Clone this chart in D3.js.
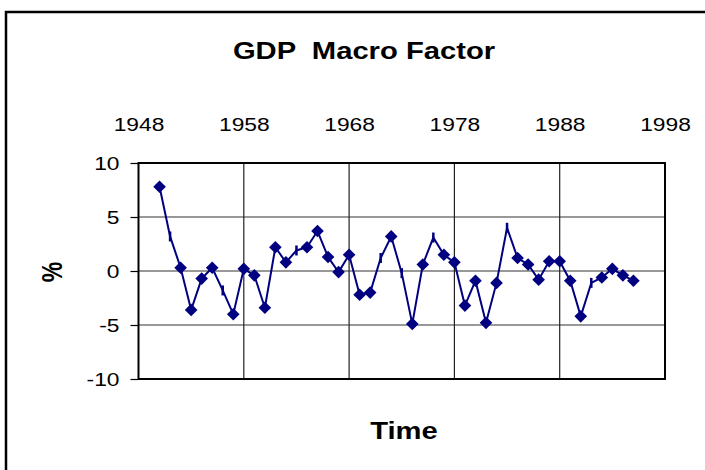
<!DOCTYPE html>
<html>
<head>
<meta charset="utf-8">
<script src="https://cdn.jsdelivr.net/npm/d3@7"></script>
<style>
  body { margin: 0; background: #fff; }
  text { font-family: 'Liberation Sans', Arial, sans-serif; fill: #000; }
</style>
</head>
<body>
<div id="chart-area"></div>
<script>
// data
const years = [1950, 1951, 1952, 1953, 1954, 1955, 1956, 1957, 1958, 1959,
  1960, 1961, 1962, 1963, 1964, 1965, 1966, 1967, 1968, 1969,
  1970, 1971, 1972, 1973, 1974, 1975, 1976, 1977, 1978, 1979,
  1980, 1981, 1982, 1983, 1984, 1985, 1986, 1987, 1988, 1989,
  1990, 1991, 1992, 1993, 1994, 1995];
const gdp = [7.8, 3.2, 0.3, -3.6, -0.7, 0.3, -1.8, -4.0, 0.2, -0.4,
  -3.4, 2.2, 0.8, 1.9, 2.2, 3.7, 1.3, -0.1, 1.5, -2.2,
  -2.0, 1.2, 3.2, -0.2, -4.9, 0.6, 3.1, 1.5, 0.8, -3.2,
  -0.9, -4.8, -1.1, 4.0, 1.2, 0.6, -0.8, 0.9, 0.9, -0.9,
  -4.2, -1.1, -0.6, 0.2, -0.4, -0.9];
// years drawn with a dash marker instead of a diamond
const dashYears = [1951, 1956, 1963, 1971, 1973, 1976, 1983, 1991];
const xTicks = [1948, 1958, 1968, 1978, 1988, 1998];
const yTicks = [-10, -5, 0, 5, 10];

const data = years.map((y, i) => ({ year: y, value: gdp[i] }));

let width = 705;
let height = 470;
let plot = { left: 138.5, right: 665, top: 163, bottom: 379 };
let lineColor = '#000080';
let stretch = 1.2; // the reference text is a bit wider than it is tall
let titleStretch = 1.27;

let xScale = d3.scaleLinear().domain([1948, 1998]).range([plot.left, plot.right]);
let yScale = d3.scaleLinear().domain([-10, 10]).range([plot.bottom, plot.top]);

let svg = d3.select('#chart-area')
  .append('svg')
  .attr('width', width)
  .attr('height', height);

svg.append('rect').attr('width', width).attr('height', height).attr('fill', '#fff');

// outer chart border (runs past the right and bottom edge)
svg.append('rect')
  .attr('x', 6).attr('y', 12)
  .attr('width', 800).attr('height', 600)
  .attr('fill', 'none')
  .attr('stroke', '#000')
  .attr('stroke-width', 2.5);

// gridlines
svg.append('g')
  .selectAll('line')
  .data(yTicks.filter((d) => d > -10 && d < 10))
  .enter()
  .append('line')
  .attr('x1', plot.left).attr('x2', plot.right)
  .attr('y1', (d) => yScale(d)).attr('y2', (d) => yScale(d))
  .attr('stroke', '#333')
  .attr('stroke-width', 1.2);
svg.append('g')
  .selectAll('line')
  .data(xTicks.filter((d) => d > 1948 && d < 1998))
  .enter()
  .append('line')
  .attr('x1', (d) => xScale(d)).attr('x2', (d) => xScale(d))
  .attr('y1', plot.top).attr('y2', plot.bottom)
  .attr('stroke', '#222')
  .attr('stroke-width', 1.2);

// plot frame
svg.append('rect')
  .attr('x', plot.left).attr('y', plot.top)
  .attr('width', plot.right - plot.left).attr('height', plot.bottom - plot.top)
  .attr('fill', 'none')
  .attr('stroke', '#000')
  .attr('stroke-width', 2);

// y axis
let yAxis = d3.axisLeft(yScale).tickValues(yTicks).tickFormat((d) => `${d}`).tickSize(8).tickPadding(11);
let yAxisG = svg.append('g')
  .attr('transform', `translate(${plot.left}, 0)`)
  .call(yAxis);
yAxisG.select('.domain').remove();
yAxisG.selectAll('line').attr('stroke', '#000').attr('stroke-width', 1.2);
yAxisG.selectAll('text')
  .attr('font-size', 19)
  .attr('font-family', "'Liberation Sans', Arial, sans-serif")
  .attr('fill', '#000')
  .attr('dy', '0.35em')
  .attr('transform', function () {
    let x = +d3.select(this).attr('x');
    d3.select(this).attr('x', 0);
    return `translate(${x}, 0) scale(${stretch}, 1)`;
  });

// x axis labels on top
let xAxis = d3.axisTop(xScale).tickValues(xTicks).tickFormat((d) => `${d}`).tickSize(0).tickPadding(32);
let xAxisG = svg.append('g')
  .attr('transform', `translate(0, ${plot.top})`)
  .call(xAxis);
xAxisG.select('.domain').remove();
xAxisG.selectAll('text')
  .attr('font-size', 19)
  .attr('font-family', "'Liberation Sans', Arial, sans-serif")
  .attr('fill', '#000')
  .attr('dy', 0)
  .attr('transform', function () {
    let y = +d3.select(this).attr('y');
    d3.select(this).attr('y', 0);
    return `translate(0, ${y}) scale(${stretch}, 1)`;
  });

// title and axis titles
svg.append('text')
  .attr('text-anchor', 'middle')
  .attr('font-size', 23)
  .attr('font-weight', 'bold')
  .attr('transform', `translate(364, 59) scale(${titleStretch}, 1)`)
  .style('white-space', 'pre')
  .text('GDP  Macro Factor');

svg.append('text')
  .attr('text-anchor', 'middle')
  .attr('font-size', 23)
  .attr('font-weight', 'bold')
  .attr('transform', `translate(404, 439) scale(${titleStretch}, 1)`)
  .text('Time');

svg.append('text')
  .attr('text-anchor', 'middle')
  .attr('font-size', 23)
  .attr('font-weight', 'bold')
  .attr('transform', `translate(62, 272) scale(${titleStretch}, 1) rotate(-90)`)
  .text('%');

// series line
let line = d3.line().x((d) => xScale(d.year)).y((d) => yScale(d.value));
svg.append('path')
  .datum(data)
  .attr('d', line)
  .attr('fill', 'none')
  .attr('stroke', lineColor)
  .attr('stroke-width', 2);

// markers
let marks = svg.append('g');
marks.selectAll('path')
  .data(data.filter((d) => !dashYears.includes(d.year)))
  .enter()
  .append('path')
  .attr('d', d3.symbol(d3.symbolSquare, 80))
  .attr('fill', lineColor)
  .attr('transform', (d) => `translate(${xScale(d.year)}, ${yScale(d.value)}) rotate(45)`);
marks.selectAll('line')
  .data(data.filter((d) => dashYears.includes(d.year)))
  .enter()
  .append('line')
  .attr('x1', (d) => xScale(d.year)).attr('x2', (d) => xScale(d.year))
  .attr('y1', (d) => yScale(d.value) - 5).attr('y2', (d) => yScale(d.value) + 5)
  .attr('stroke', lineColor)
  .attr('stroke-width', 2.5);
</script>
</body>
</html>
